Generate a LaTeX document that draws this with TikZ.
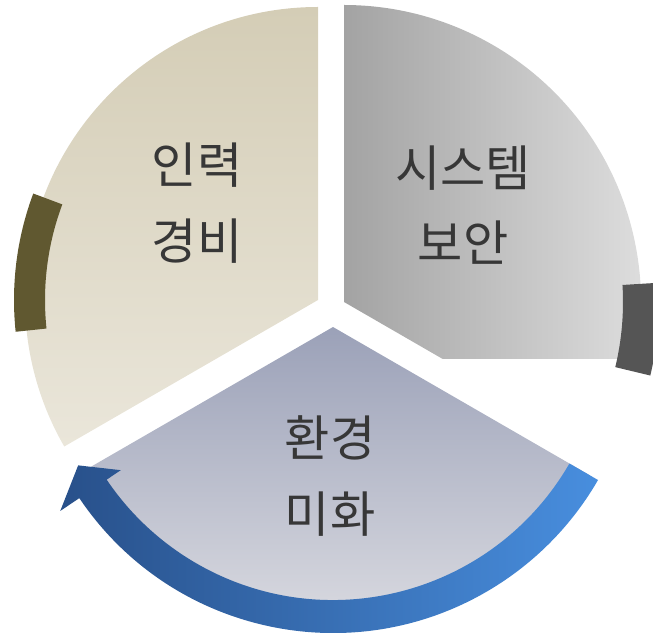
\documentclass[tikz,border=0pt]{standalone}
\usepackage{fontspec}
\newfontfamily\krfont{Noto Sans CJK KR}
\definecolor{beigeA}{RGB}{212,205,182}
\definecolor{beigeB}{RGB}{234,230,218}
\definecolor{grayA}{RGB}{163,163,163}
\definecolor{grayB}{RGB}{229,229,229}
\definecolor{slateA}{RGB}{155,161,184}
\definecolor{slateB}{RGB}{226,226,230}
\definecolor{blueA}{RGB}{40,80,138}
\definecolor{blueB}{RGB}{72,142,222}
\definecolor{oliveTab}{RGB}{96,88,48}
\definecolor{darkTab}{RGB}{85,85,85}
\definecolor{txtgray}{RGB}{55,55,55}
\begin{document}
\begin{tikzpicture}[
    lbl/.style={align=center, text=txtgray, font=\krfont\fontsize{28}{43}\selectfont}]
    \useasboundingbox (0,0) rectangle (13.06,12.64);
    % upper left piece
    \begin{scope}[shift={(6.36,6.64)}]
        \shade[top color=beigeA, bottom color=beigeB] (0,0) -- (90:5.86) arc[start angle=90, end angle=210, radius=5.86] -- cycle;
        \fill[oliveTab] (159.5:5.46) arc[start angle=159.5, end angle=186, radius=5.46] -- (186:6.08) arc[start angle=186, end angle=159.5, radius=6.08] -- cycle;
    \end{scope}
    % upper right piece, cut flat below
    \begin{scope}[shift={(6.88,6.6)}]
        \begin{scope}
            \clip (-7,-1.12) rectangle (7,6.1);
            \shade[left color=grayA, right color=grayB] (0,0) -- (-30:5.94) arc[start angle=-30, end angle=90, radius=5.94] -- cycle;
        \end{scope}
        \fill[darkTab] (3.5:5.58) arc[start angle=3.5, end angle=-13.5, radius=5.58] -- (-13.5:6.3) arc[start angle=-13.5, end angle=3.5, radius=6.3] -- cycle;
    \end{scope}
    % lower piece with the arrow
    \begin{scope}[shift={(6.66,6.1)}]
        \shade[top color=slateA, bottom color=slateB] (0,0) -- (210:5.94) arc[start angle=210, end angle=330, radius=5.94] -- cycle;
        \shade[left color=blueA, right color=blueB] (-30:5.46) arc[start angle=-30, end angle=-146, radius=5.46] -- (-146:5.12) -- (-151.5:5.8) -- (-146:6.58) -- (-146:6.12) arc[start angle=-146, end angle=-30, radius=6.12] -- cycle;
    \end{scope}
    \node[lbl] (inryeok) at (3.94,8.58) {인력\\경비};
    \node[lbl] (siseutem) at (9.26,8.54) {시스템\\보안};
    \node[lbl] (hwangyeong) at (6.6,3.12) {환경\\미화};
\end{tikzpicture}
\end{document}
